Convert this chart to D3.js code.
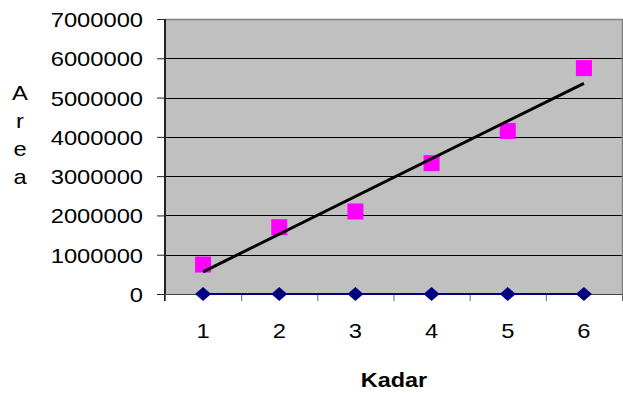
<!DOCTYPE html>
<html>
<head>
<meta charset="utf-8">
<script src="https://cdn.jsdelivr.net/npm/d3@7/dist/d3.min.js"></script>
<style>
  html, body { margin: 0; padding: 0; background: #fff; }
  svg { display: block; font-family: "Liberation Sans", Arial, sans-serif; }
</style>
</head>
<body>
<svg id="chart" width="623" height="393"></svg>
<script>
const categories = [1, 2, 3, 4, 5, 6];
const seriesBlank = [0, 0, 0, 0, 0, 0];
const seriesArea = [750000, 1700000, 2100000, 3330000, 4150000, 5750000];
const yTicks = [0, 1000000, 2000000, 3000000, 4000000, 5000000, 6000000, 7000000];
const yTitle = ["A", "r", "e", "a"];
const xTitle = "Kadar";

const svg = d3.select("#chart");
const L = 165, R = 622, T = 19, B = 294;
const FS = 21, SX = 1.13;

const x = d3.scaleBand().domain(categories).range([L, R]).paddingInner(0).paddingOuter(0);
const xc = d => x(d) + x.bandwidth() / 2;
const xEdge = d3.scaleLinear().domain([0.5, 6.5]).range([L, R]);
const y = d3.scaleLinear().domain([0, 7000000]).range([B, T]);

// plot background
svg.append("rect").attr("x", L).attr("y", T).attr("width", R - L).attr("height", B - T)
  .attr("fill", "#c0c0c0");

// gridlines
svg.append("g").selectAll("line").data(yTicks.filter(v => v > 0 && v < 7000000)).join("line")
  .attr("x1", L).attr("x2", R).attr("y1", d => Math.round(y(d)) + 0.5).attr("y2", d => Math.round(y(d)) + 0.5)
  .attr("stroke", "#000").attr("stroke-width", 1);

// top and right border
svg.append("path")
  .attr("d", `M${L},${T + 0.5}H${R + 0.5}V${B}`)
  .attr("fill", "none").attr("stroke", "#808080").attr("stroke-width", 1.5);

// y axis
const yAxis = svg.append("g").attr("transform", `translate(${L},0)`)
  .call(d3.axisLeft(y).tickValues(yTicks).tickSize(8).tickPadding(0).tickFormat(d3.format("d")));
yAxis.select(".domain").attr("stroke", "#222").attr("stroke-width", 2).attr("d", `M0,${T}V${B + 7}`);
yAxis.selectAll(".tick line").attr("stroke", "#222");
yAxis.selectAll(".tick text")
  .attr("x", -22 / SX).attr("dy", "0.36em")
  .attr("transform", `scale(${SX},1)`)
  .attr("font-size", FS).attr("font-family", "Liberation Sans, Arial, sans-serif").attr("fill", "#000");

// x axis (ticks at band edges)
const xAxis = svg.append("g").attr("transform", `translate(0,${B})`)
  .call(d3.axisBottom(xEdge).tickValues([0.5, 1.5, 2.5, 3.5, 4.5, 5.5, 6.5]).tickSize(7).tickFormat(""));
xAxis.select(".domain").attr("stroke", "#444").attr("stroke-width", 1).attr("d", `M${L},0.5H${R}`);
xAxis.selectAll(".tick line").attr("stroke", "#666");

// x labels
svg.append("g").selectAll("text").data(categories).join("text")
  .attr("transform", d => `translate(${xc(d)},338) scale(${SX},1)`)
  .attr("text-anchor", "middle").attr("font-size", FS).attr("fill", "#000")
  .text(d => d);

// blank series line + diamonds
const line = d3.line().x((d, i) => xc(categories[i])).y(d => y(d));
svg.append("path").datum(seriesBlank).attr("d", line)
  .attr("fill", "none").attr("stroke", "#000080").attr("stroke-width", 2);
svg.append("g").selectAll("path").data(seriesBlank).join("path")
  .attr("transform", (d, i) => `translate(${xc(categories[i])},${y(d)})`)
  .attr("d", "M0,-7L8,0L0,7L-8,0Z").attr("fill", "#000080");

// area series squares
svg.append("g").selectAll("rect").data(seriesArea).join("rect")
  .attr("x", (d, i) => xc(categories[i]) - 8).attr("y", d => y(d) - 8)
  .attr("width", 16).attr("height", 16).attr("fill", "#ff00ff");

// linear trendline
const n = categories.length;
const mx = d3.mean(categories), my = d3.mean(seriesArea);
const slope = d3.sum(categories.map((c, i) => (c - mx) * (seriesArea[i] - my))) /
  d3.sum(categories.map(c => (c - mx) * (c - mx)));
const icpt = my - slope * mx;
const c0 = categories[0], c1 = categories[n - 1];
svg.append("line")
  .attr("x1", xc(c0)).attr("y1", y(icpt + slope * c0))
  .attr("x2", xc(c1)).attr("y2", y(icpt + slope * c1))
  .attr("stroke", "#000").attr("stroke-width", 3);

// y title (stacked letters)
svg.append("g").selectAll("text").data(yTitle).join("text")
  .attr("transform", (d, i) => `translate(20,${100 + i * 28}) scale(${SX},1)`)
  .attr("text-anchor", "middle").attr("font-size", FS).attr("fill", "#000")
  .text(d => d);

// x title
svg.append("text")
  .attr("transform", `translate(394,387) scale(1.2,1)`)
  .attr("text-anchor", "middle").attr("font-size", 19.5).attr("font-weight", "bold").attr("fill", "#000")
  .text(xTitle);
</script>
</body>
</html>
